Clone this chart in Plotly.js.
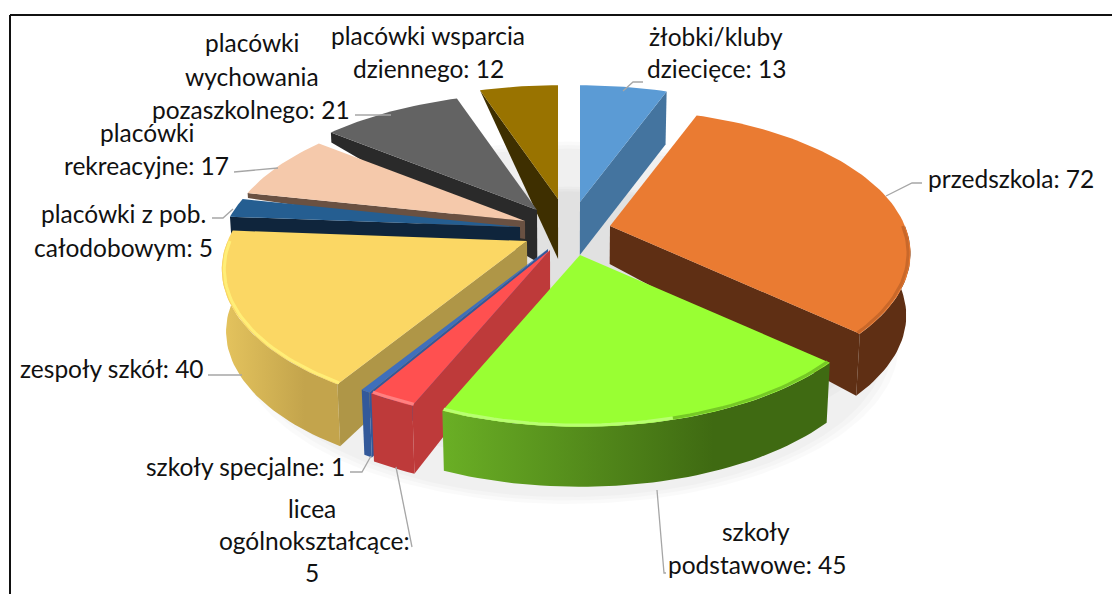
<!DOCTYPE html>
<html><head><meta charset="utf-8">
<script src="https://cdn.plot.ly/plotly-3.0.1.min.js"></script>
<style>html,body{margin:0;padding:0;background:#fff}#c{width:1112px;height:594px}</style>
</head><body><div id="c"></div>
<script>
// ---- data ----
const names=["żłobki/kluby dziecięce","przedszkola","szkoły podstawowe","licea ogólnokształcące","szkoły specjalne","zespoły szkół","placówki z pob. całodobowym","placówki rekreacyjne","placówki wychowania pozaszkolnego","placówki wsparcia dziennego"];
const values=[13,72,45,5,1,40,5,17,21,12];
// ---- styling of each slice ----
const topColors=["#5B9BD5","#EA7B32","#99FF33","#FF5050","#3F6FBB","#FBD764","#255E91","#F5C9AB","#636363","#997300"];
const wallColors=["#44749F","#5F2F14","#4F8018","#BE3A3A","#33599A","#AF9647","#0F253C","#6A5142","#2A2A2A","#3E2F00"];
const arcWallFrom=["#44749F","#5F2F14","#6AAF25","#BE3A3A","#33599A","#E5C45E","#0F253C","#6A5142","#2A2A2A","#3E2F00"];
const arcWallTo=["#44749F","#5F2F14","#3F6A12","#BE3A3A","#33599A","#C3A44C","#0F253C","#6A5142","#2A2A2A","#3E2F00"];
const rimColors=[null,"#C9682A","#B8FF70","#FF8080",null,"#FFEE77",null,null,null,null];
const rimShadeColors=[null,null,"#76C926",null,null,null,null,null,null,null];
const rimShadeBelow=165;
// ---- exploded layout of each slice (the pull of each apex, its radius and thickness) ----
const apexX=[580,610,580,550,548,527,520,525,537,558];
const apexY=[202,226,255,250,249,241,227,221,210,199];
const radiusScale=[1,1,1,1,1,1.015,1,1,1,.97];
const depthInner=[53,38,40,50,50,30,16,18,52,60];
const depthOuter=[53,62,60,68,65,62,18,5,10,0];
const paintOrder=[9,8,7,6,0,1,5,4,3,2];
const RX=295,RY=139,PERSP=.191,CONVERGE=.012,MIDX=565;
// ---- labels ----
const labelLines=[
 ["placówki wsparcia",428,35],["dziennego: 12",428,68],
 ["placówki",252,42],["wychowania",252,76],["pozaszkolnego: 21",251,109],
 ["żłobki/kluby",716,36],["dziecięce: 13",716,68],
 ["przedszkola: 72",1011,178],
 ["placówki",147,132],["rekreacyjne: 17",146,165],
 ["placówki z pob.",123,213],["całodobowym: 5",123,247],
 ["zespoły szkół: 40",112,368],
 ["szkoły specjalne: 1",245,466],
 ["licea",312,508],["ogólnokształcące:",314,540],["5",312,572],
 ["szkoły",756,531],["podstawowe: 45",757,564]];
const leaderX=[[623,633,643],[886,912,922],[657,664,666],[396,412],[371,362,350],[242,208],[278,234],[233,223,212],[391,355]];
const leaderY=[[91,82,82],[196,183,183],[490,573,573],[467,547],[456,472,472],[375,375],[168,172],[209,218,218],[115,115]];
// ---- soft shadow layers: scale, centre y ----
const shadowScale=[1.1,1.07,1.04,1.1,1.08,1.06];
const shadowCentre=[270,270,270,315,315,315];

const total=values.reduce((a,b)=>a+b,0);
const starts=[];let acc=0;values.forEach(v=>{starts.push(acc/total*360);acc+=v;});
const rad=d=>d*Math.PI/180;
function pt(i,deg,u){const R=u*radiusScale[i],X=R*Math.sin(rad(deg)),Y=R*Math.cos(rad(deg)),s=1/(1+PERSP*Y);
  return [apexX[i]+RX*X*s,apexY[i]-RY*Y*s];}
function drop(p,d){return [p[0]-(p[0]-MIDX)*CONVERGE*d/60,p[1]+d];}
function range(a,b){const o=[];const n=Math.max(2,Math.ceil((b-a)/1.5));for(let k=0;k<=n;k++)o.push(a+(b-a)*k/n);return o;}
const traces=[];
function poly(pts,color,grad){const t={type:'scatter',mode:'lines',x:pts.map(p=>p[0]).concat(pts[0][0]),y:pts.map(p=>p[1]).concat(pts[0][1]),
  fill:'toself',line:{width:0,color:color},fillcolor:color,hoverinfo:'skip',showlegend:false};
  if(grad){t.fillgradient={type:'horizontal',colorscale:[[0,grad[0]],[.7,grad[1]],[1,grad[1]]]};}
  traces.push(t);}
function rim(i,lo,hi,color){const r=range(lo,hi).map(d=>pt(i,d,.992));
  traces.push({type:'scatter',mode:'lines',x:r.map(p=>p[0]),y:r.map(p=>p[1]),line:{color:color,width:3},hoverinfo:'skip',showlegend:false});}
shadowScale.forEach((k,j)=>{
  const c=range(0,360).map(d=>{const X=Math.sin(rad(d)),Y=Math.cos(rad(d)),s=1/(1+PERSP*Y);return [568+RX*k*X*s,shadowCentre[j]-RY*k*Y*s];});
  poly(c,'rgba(0,0,0,0.018)');});
paintOrder.forEach(i=>{
  const a=starts[i],b=a+values[i]/total*360;
  const apex=pt(i,a,0);
  if(Math.sin(rad(a))<0){const o=pt(i,a,1);poly([apex,o,drop(o,depthOuter[i]),drop(apex,depthInner[i])],wallColors[i]);}
  if(Math.sin(rad(b))>0.001){const o=pt(i,b,1);poly([apex,o,drop(o,depthOuter[i]),drop(apex,depthInner[i])],wallColors[i]);}
  const lo=Math.max(a,90),hi=Math.min(b,270);
  if(hi>lo){const arc=range(lo,hi).map(d=>pt(i,d,1));
    poly(arc.concat(arc.slice().reverse().map(p=>drop(p,depthOuter[i]))),arcWallFrom[i],[arcWallFrom[i],arcWallTo[i]]);}
  poly([apex].concat(range(a,b).map(d=>pt(i,d,1))),topColors[i]);
  if(rimColors[i]&&hi>lo){
    if(rimShadeColors[i]){rim(i,lo,rimShadeBelow,rimShadeColors[i]);rim(i,rimShadeBelow,hi,rimColors[i]);}
    else rim(i,lo,hi,rimColors[i]);}
});
leaderX.forEach((lx,k)=>traces.push({type:'scatter',mode:'lines',x:lx,y:leaderY[k],line:{color:'#A6A6A6',width:1.3},hoverinfo:'skip',showlegend:false}));
const annotations=labelLines.map(l=>({text:l[0],x:l[1],y:l[2],xref:'x',yref:'y',showarrow:false,xanchor:'center',yanchor:'middle',
  font:{family:'Lato, "Open Sans", sans-serif',size:24.5,color:'#111'}}));
const hidden={visible:false,fixedrange:true};
Plotly.newPlot('c',traces,{width:1112,height:594,margin:{l:0,r:0,t:0,b:0},paper_bgcolor:'#fff',plot_bgcolor:'#fff',
  xaxis:Object.assign({range:[0,1112]},hidden),yaxis:Object.assign({range:[594,0]},hidden),
  annotations:annotations,
  shapes:[{type:'line',xref:'x',yref:'y',x0:10,x1:10,y0:15,y1:594,line:{color:'#111',width:2}},
          {type:'line',xref:'x',yref:'y',x0:10,x1:1112,y0:15,y1:15,line:{color:'#111',width:2}}]
},{displayModeBar:false,staticPlot:true});
</script></body></html>
